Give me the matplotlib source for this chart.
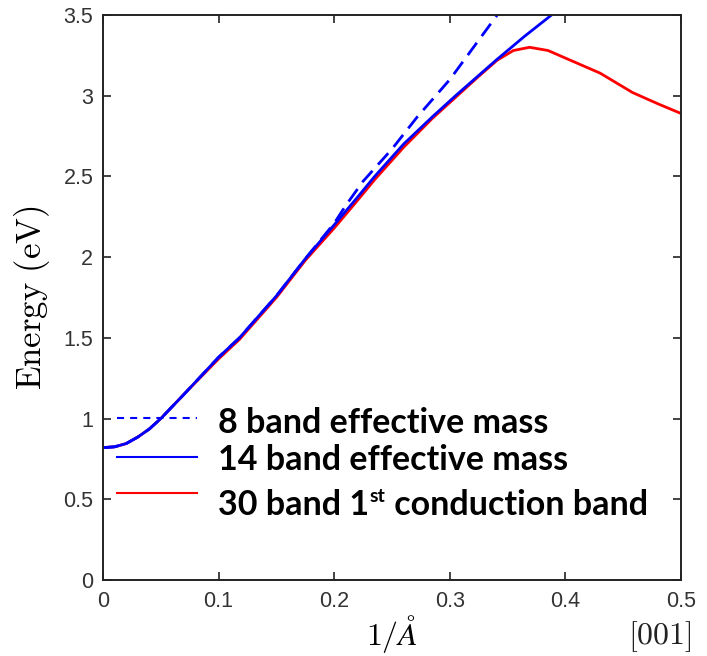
import matplotlib
matplotlib.use("Agg")
import matplotlib.pyplot as plt
import numpy as np

plt.rcParams['mathtext.fontset'] = 'cm'

# 14 band effective mass (solid blue)
k14 = [0.0, 0.01, 0.02, 0.03, 0.04, 0.05, 0.07, 0.1, 0.118, 0.15, 0.175, 0.2, 0.22, 0.235, 0.26, 0.285, 0.305, 0.34, 0.365, 0.388]
e14 = [0.82, 0.825, 0.845, 0.885, 0.935, 1.0, 1.15, 1.38, 1.5, 1.76, 1.99, 2.2, 2.37, 2.5, 2.7, 2.87, 3.0, 3.22, 3.37, 3.5]

# 8 band effective mass (dashed blue)
k8 = [0.0, 0.01, 0.02, 0.03, 0.04, 0.05, 0.07, 0.1, 0.118, 0.15, 0.175, 0.2, 0.21, 0.225, 0.25, 0.272, 0.3, 0.341]
e8 = [0.82, 0.825, 0.845, 0.885, 0.935, 1.0, 1.15, 1.38, 1.5, 1.76, 1.99, 2.21, 2.32, 2.47, 2.67, 2.87, 3.1, 3.5]

# 30 band 1st conduction band (red)
k30 = [0.0, 0.01, 0.02, 0.03, 0.04, 0.05, 0.07, 0.1, 0.118, 0.15, 0.175, 0.2, 0.22, 0.235, 0.26, 0.285, 0.305, 0.325, 0.341, 0.355, 0.369, 0.385, 0.401, 0.43, 0.458, 0.48, 0.5]
e30 = [0.82, 0.825, 0.845, 0.885, 0.935, 1.0, 1.15, 1.37, 1.49, 1.75, 1.98, 2.18, 2.35, 2.48, 2.68, 2.86, 2.99, 3.12, 3.22, 3.28, 3.30, 3.28, 3.23, 3.14, 3.02, 2.95, 2.89]

xticks = [0, 0.1, 0.2, 0.3, 0.4, 0.5]
xticklabels = ["0", "0.1", "0.2", "0.3", "0.4", "0.5"]
yticks = [0, 0.5, 1, 1.5, 2, 2.5, 3, 3.5]
yticklabels = ["0", "0.5", "1", "1.5", "2", "2.5", "3", "3.5"]

W, H = 707, 656
fig = plt.figure(figsize=(W/100, H/100), dpi=100)
ax = fig.add_axes([103/W, 1-580/H, (681-103)/W, (580-15)/H])

ax.plot(k30, e30, color='#ff0000', lw=2)
ax.plot(k14, e14, color='#0000ff', lw=2)
ax.plot(k8, e8, color='#0000ff', lw=2, ls=(0, (5.5, 3)))

ax.set_xlim(0, 0.5)
ax.set_ylim(0, 3.5)
ax.set_xticks(xticks)
ax.set_xticklabels(xticklabels)
ax.set_yticks(yticks)
ax.set_yticklabels(yticklabels)
ax.tick_params(direction='in', top=True, right=True, length=6, width=1.2,
               labelsize=15.5, colors='#222222')
ax.tick_params(axis='x', pad=8)
ax.tick_params(axis='y', pad=7)
for lab in ax.get_xticklabels() + ax.get_yticklabels():
    lab.set_family('Liberation Sans')
    lab.set_color('#333333')
for s in ax.spines.values():
    s.set_linewidth(1.4)
    s.set_color('#222222')

fig.text(32/W, 1-298/H, r"$\mathrm{Energy\ (eV)}$", rotation=90, ha='center', va='center', fontsize=25)
fig.text(392/W, 1-645/H, r"$1/\AA$", ha='center', va='baseline', fontsize=23)
fig.text(660/W, 1-644/H, r"$[001]$", ha='center', va='baseline', fontsize=23, color='#222222')

# legend
lx0, lx1 = 117/W, 197/W
ys = [418, 457, 493]
styles = [dict(color='#0000ff', ls=(0, (3.4, 2.9))), dict(color='#0000ff', ls='-'), dict(color='#ff0000', ls='-')]
for y, st in zip(ys, styles):
    fig.add_artist(plt.Line2D([lx0, lx1], [1-y/H, 1-y/H], transform=fig.transFigure, lw=1.5, **st))

fkw = dict(family='Lato', weight='bold', fontsize=24.5, color='black')
fig.text(218/W, 1-433/H, "8 band effective mass", va='baseline', **fkw)
fig.text(218/W, 1-470/H, "14 band effective mass", va='baseline', **fkw)
t1 = fig.text(218/W, 1-515/H, "30 band 1", va='baseline', **fkw)
t2 = ax.annotate("st", xy=(1, 1), xycoords=t1, va='top', ha='left', xytext=(0.5, 1), textcoords='offset points',
                 family='Lato', weight='bold', fontsize=14, color='black')
t3 = ax.annotate(" conduction band", xy=(1, 0), xycoords=(t2, t1), va='bottom', ha='left', **fkw)

fig.savefig('out.png', dpi=100)
